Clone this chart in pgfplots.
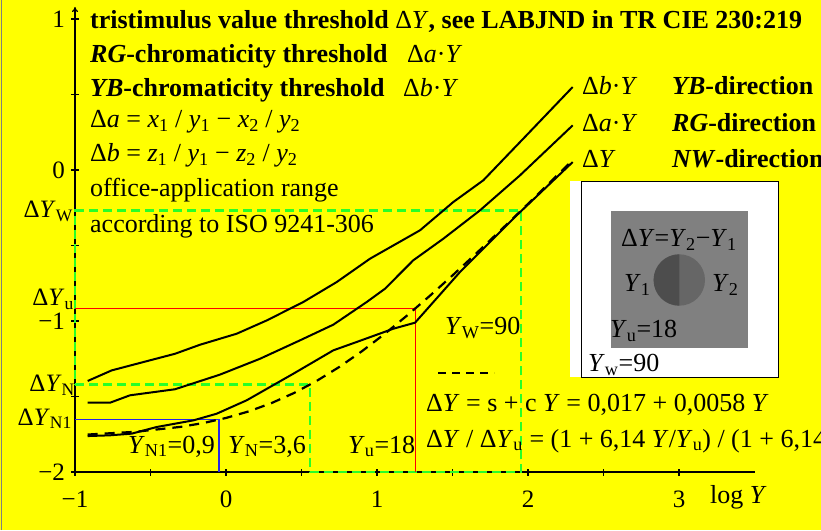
\documentclass[border=0pt]{standalone}
\usepackage{pgfplots}
\pgfplotsset{compat=1.18}
\usepackage{pgfplotstable}
\usepackage{fontspec}
\setmainfont{Liberation Serif}
\usetikzlibrary{arrows.meta}

\definecolor{bgyellow}{RGB}{255,255,0}
\definecolor{officegreen}{RGB}{40,255,40}
\definecolor{patchgray}{RGB}{128,128,128}
\definecolor{leftgray}{RGB}{77,77,77}
\definecolor{rightgray}{RGB}{102,102,102}
\definecolor{nblue}{RGB}{40,40,230}

\newcommand{\fs}{\fontsize{26}{30}\selectfont}
\newcommand{\fsl}{\fontsize{25}{29}\selectfont}
\newcommand{\sub}[1]{\textsubscript{#1}}
\newcommand{\Y}{\textit{Y}}

% Delta b * Y (YB direction)
\pgfplotstableread{
x y
-0.916 -1.397
-0.757 -1.327
-0.548 -1.272
-0.338 -1.217
-0.172 -1.157
0.071 -1.084
0.270 -0.996
0.512 -0.874
0.733 -0.742
0.954 -0.587
1.285 -0.399
1.505 -0.212
1.704 -0.068
1.990 0.230
2.296 0.550
}\curveYB

% Delta a * Y (RG direction)
\pgfplotstableread{
x y
-0.916 -1.541
-0.768 -1.541
-0.636 -1.492
-0.338 -1.452
-0.040 -1.355
0.225 -1.250
0.490 -1.128
0.711 -1.024
0.932 -0.874
1.053 -0.786
1.240 -0.598
1.439 -0.455
1.682 -0.267
1.947 -0.035
2.296 0.296
}\curveRG

% Delta Y (NW direction)
\pgfplotstableread{
x y
-0.916 -1.762
-0.768 -1.757
-0.625 -1.746
-0.459 -1.702
-0.216 -1.658
-0.062 -1.614
0.137 -1.525
0.446 -1.349
0.711 -1.194
0.865 -1.139
1.108 -1.051
1.252 -1.011
1.550 -0.675
1.925 -0.300
2.296 0.053
}\curveNW

% log(0.017 + 0.0058 Y), values worked out by hand
\pgfplotstableread{
x y
-0.916 -1.7519
-0.600 -1.7338
-0.300 -1.7010
-0.150 -1.6756
0.000 -1.6421
0.150 -1.5987
0.300 -1.5441
0.450 -1.4770
0.600 -1.3970
0.750 -1.3044
0.900 -1.2002
1.050 -1.0858
1.200 -0.9629
1.350 -0.8330
1.500 -0.6981
1.650 -0.5589
1.800 -0.4168
1.950 -0.2725
2.100 -0.1265
2.200 -0.0286
2.296 0.0659
}\curveFit

\begin{document}
\begin{tikzpicture}
\fill[bgyellow] (0,0) rectangle (821pt,530pt);
\path[use as bounding box] (0,0) rectangle (821pt,530pt);
\draw[gray, line width=1.5pt] (1.5pt,0) -- (1.5pt,530pt);

\begin{axis}[
    at={(75pt,58pt)}, anchor=south west,
    scale only axis, width=679.5pt, height=465pt,
    xmin=-1, xmax=3.5, ymin=-2, ymax=1.08,
    axis lines=left,
    axis line style={line width=1.2pt},
    x axis line style={-},
    y axis line style={-{To[length=5pt,width=6pt]}},
    xtick={-1,-0.5,0,0.5,1,1.5,2,2.5,3},
    xticklabels={−1,,0,,1,,2,,3},
    ytick={-2,-1.5,-1,-0.5,0,0.5,1},
    yticklabels={−2,,−1,,0,,1},
    tick align=center, major tick length=7pt,
    tick style={line width=1.2pt, black},
    ticklabel style={font=\fsl},
    xticklabel style={yshift=-12pt},
    yticklabel style={xshift=-3pt},
    clip=false,
]
\addplot[officegreen, line width=2.6pt, dash pattern=on 9pt off 5pt]
    coordinates {(-1,-1.4216) (0.556,-1.4216) (0.556,-2) (1.954,-2)
                 (1.954,-0.268) (-1,-0.268) (-1,-1.4216)};
\addplot[red, line width=1.3pt]
    coordinates {(-1,-0.916) (1.255,-0.916) (1.255,-2)};
\addplot[nblue, line width=1.3pt]
    coordinates {(-1,-1.6532) (-0.046,-1.6532) (-0.046,-2)};
\addplot[black, line width=2pt] table {\curveYB};
\addplot[black, line width=2pt] table {\curveRG};
\addplot[black, line width=2pt] table {\curveNW};
\addplot[black, line width=2.2pt, dash pattern=on 10pt off 7pt] table {\curveFit};
\end{axis}

\begin{scope}[x=1pt, y=1pt, every node/.style={inner sep=0pt, font=\fs}]
% text block, top left
\node[anchor=base west] at (90,501) {\textbf{tristimulus value threshold} Δ\Y\textbf{, see LABJND in TR CIE 230:219}};
\node[anchor=base west] at (90,467) {\textbf{\textit{RG}-chromaticity threshold}};
\node[anchor=base west] at (407,467) {Δ\textit{a}·\Y};
\node[anchor=base west] at (90,433) {\textbf{\textit{YB}-chromaticity threshold}};
\node[anchor=base west] at (403,433) {Δ\textit{b}·\Y};
\node[anchor=base west] at (90,402) {Δ\textit{a} = \textit{x}\sub{1} / \textit{y}\sub{1} − \textit{x}\sub{2} / \textit{y}\sub{2}};
\node[anchor=base west] at (90,368) {Δ\textit{b} = \textit{z}\sub{1} / \textit{y}\sub{1} − \textit{z}\sub{2} / \textit{y}\sub{2}};
\node[anchor=base west] at (90,333) {office-application range};
\node[anchor=base west] at (90,297) {according to ISO 9241-306};

% curve labels, right
\node[anchor=base west] at (582,435) {Δ\textit{b}·\Y};
\node[anchor=base west] at (672,435) {\textbf{\textit{YB}-direction}};
\node[anchor=base west] at (582,398) {Δ\textit{a}·\Y};
\node[anchor=base west] at (672,398) {\textbf{\textit{RG}-direction}};
\node[anchor=base west] at (582,362) {Δ\Y};
\node[anchor=base west] at (672,362) {\textbf{\textit{NW}-direction}};

% left side level labels
\node[anchor=base east, font=\fsl] at (73,312) {Δ\Y\sub{W}};
\node[anchor=base east, font=\fsl] at (74,224) {Δ\Y\sub{u}};
\node[anchor=base east, font=\fsl] at (75,138) {Δ\Y\sub{N}};
\node[anchor=base east, font=\fsl] at (72,105) {Δ\Y\sub{N1}};

% labels in the plot
\node[anchor=base west] at (445,195) {\Y\sub{W}=90};
\node[anchor=base west] at (128,77) {\Y\sub{N1}=0,9};
\node[anchor=base west] at (228,77) {\Y\sub{N}=3,6};
\node[anchor=base west] at (348,77) {\Y\sub{u}=18};
\draw[black, line width=2.2pt, dash pattern=on 8pt off 6pt] (438,157) -- (494,157);
\node[anchor=base west] at (426,118) {Δ\Y{} = s + c \Y{} = 0,017 + 0,0058 \Y};
\node[anchor=base west] at (426,83) {Δ\Y{} / Δ\Y\sub{u} = (1 + 6,14 \Y/\Y\sub{u}) / (1 + 6,14)};
\node[anchor=base west] at (710,27) {log \Y};

% inset patch
\fill[white] (570,153) rectangle (778,349);
\draw[black, line width=0.8pt] (581.7,153) rectangle (778,349);
\fill[patchgray] (610.7,182.3) rectangle (748,319.3);
\fill[rightgray] (679.3,250) circle[radius=25.7];
\fill[leftgray] (679.3,275.7) arc[start angle=90, end angle=270, radius=25.7] -- cycle;
\node[anchor=base] at (679,283) {Δ\Y=\Y\sub{2}−\Y\sub{1}};
\node[anchor=base west] at (624,238) {\Y\sub{1}};
\node[anchor=base west] at (712,238) {\Y\sub{2}};
\node[anchor=base west] at (610,192) {\Y\sub{u}=18};
\node[anchor=base west] at (588,158) {\Y\sub{w}=90};
\end{scope}
\end{tikzpicture}
\end{document}
